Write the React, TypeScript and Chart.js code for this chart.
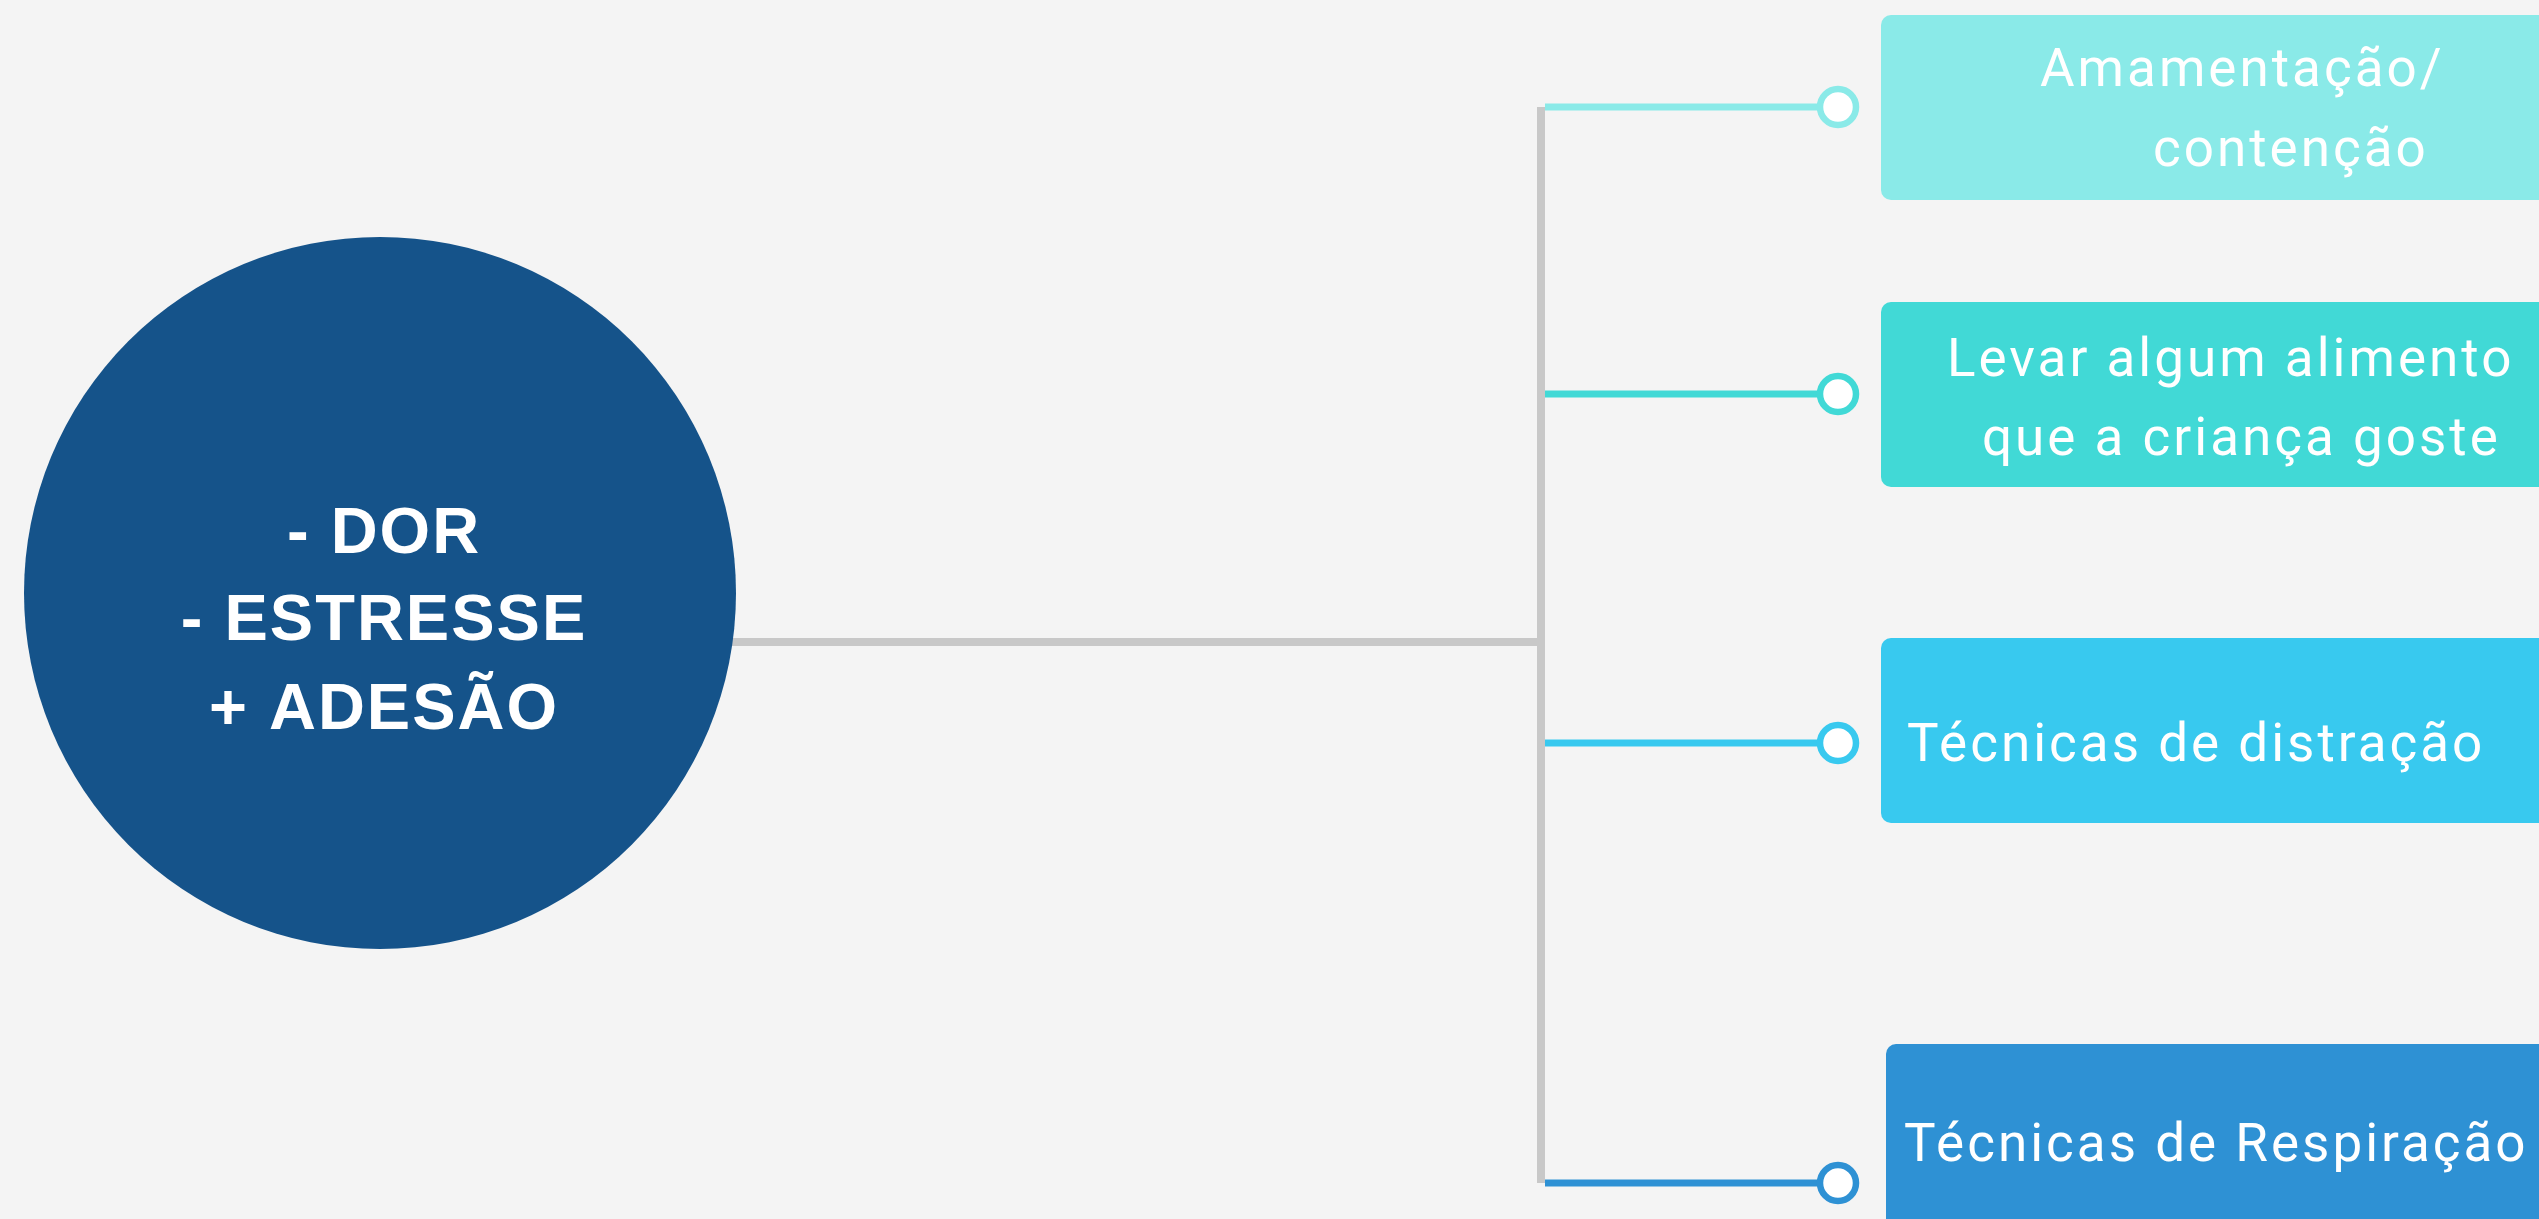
import React, { useEffect, useRef } from "react";
import { Chart, registerables } from "chart.js";

Chart.register(...registerables);

// ---- diagram data (diagram units = scale units) ----
const hubLines = ["- DOR", "- ESTRESSE", "+ ADESÃO"];
const hubCenter = { x: 380, y: 593 };
const hubRadius = 356;
const hubTextBaselines = [553, 640, 729];
const hubTextCenterX = 384;

const branchLabels: string[][] = [
  ["Amamentação/", "contenção"],
  ["Levar algum alimento", "que a criança goste"],
  ["Técnicas de distração"],
  ["Técnicas de Respiração"],
];
const branchY = [107, 394, 743, 1183];
const branchColors = ["#8AEAE8", "#41D9D6", "#38C9EF", "#2E91D4"];
const boxTop = [15, 302, 638, 1044];
const boxBottom = [200, 487, 823, 1290];
const boxLeft = [1881, 1881, 1881, 1886];
const textLeft: number[][] = [[2040, 2153], [1947, 1982], [1907], [1904]];
const textBaselines: number[][] = [[86, 166], [376, 455], [761], [1161]];

const trunkY = 642;
const spineX = 1541;
const connectorStartX = 1545;
const markerX = 1838;
const worldW = 2539;
const worldH = 1219;

const BG = "#F4F4F4";
const GRAY = "#C8C8C8";
const HUB = "#15538A";

export default function App() {
  const ref = useRef<HTMLCanvasElement | null>(null);

  useEffect(() => {
    if (!ref.current) return;

    const bgPlugin = {
      id: "bg",
      beforeDraw(chart: any) {
        const c = chart.ctx;
        c.save();
        c.fillStyle = BG;
        c.fillRect(0, 0, chart.width, chart.height);
        c.restore();
      },
    };

    const boxPlugin = {
      id: "boxes",
      beforeDatasetsDraw(chart: any) {
        const { ctx: c, scales } = chart;
        const sx = scales.x, sy = scales.y;
        c.save();
        branchLabels.forEach((_, i) => {
          const x0 = sx.getPixelForValue(boxLeft[i]);
          const x1 = sx.getPixelForValue(worldW + 40);
          const y0 = sy.getPixelForValue(boxTop[i]);
          const y1 = sy.getPixelForValue(boxBottom[i]);
          c.fillStyle = branchColors[i];
          c.beginPath();
          (c as any).roundRect(x0, y0, x1 - x0, y1 - y0, 10);
          c.fill();
        });
        c.restore();
      },
      afterDatasetsDraw(chart: any) {
        const { ctx: c, scales } = chart;
        const sx = scales.x, sy = scales.y;
        c.save();
        c.fillStyle = "#FFFFFF";
        c.textBaseline = "alphabetic";
        // branch texts
        c.font = '400 53px Roboto, "Noto Sans", sans-serif';
        (c as any).letterSpacing = "3px";
        c.textAlign = "left";
        branchLabels.forEach((lines, i) => {
          lines.forEach((t, j) => {
            c.fillText(t, sx.getPixelForValue(textLeft[i][j]), sy.getPixelForValue(textBaselines[i][j]));
          });
        });
        // hub texts
        c.font = 'bold 65px "Liberation Sans", Arial, sans-serif';
        (c as any).letterSpacing = "2px";
        c.textAlign = "center";
        hubLines.forEach((t, j) => {
          c.fillText(t, sx.getPixelForValue(hubTextCenterX), sy.getPixelForValue(hubTextBaselines[j]));
        });
        (c as any).letterSpacing = "0px";
        c.restore();
      },
    };

    const datasets: any[] = [];
    // hub circle (on top)
    datasets.push({
      type: "scatter",
      data: [{ x: hubCenter.x, y: hubCenter.y }],
      pointRadius: (ctx: any) => {
        const s = ctx.chart.scales.x;
        return s.getPixelForValue(hubRadius) - s.getPixelForValue(0);
      },
      pointBackgroundColor: HUB,
      pointBorderWidth: 0,
      clip: false,
      order: 0,
    });
    // markers
    branchY.forEach((y, i) => {
      datasets.push({
        type: "scatter",
        data: [{ x: markerX, y }],
        pointRadius: 18,
        pointBorderWidth: 6.5,
        pointBackgroundColor: "#FFFFFF",
        pointBorderColor: branchColors[i],
        clip: false,
        order: 1,
      });
    });
    // connectors
    branchY.forEach((y, i) => {
      datasets.push({
        type: "line",
        data: [
          { x: connectorStartX, y },
          { x: markerX, y },
        ],
        borderColor: branchColors[i],
        borderWidth: 7,
        borderCapStyle: "butt",
        pointRadius: 0,
        clip: false,
        order: 2,
      });
    });
    // trunk + spine
    datasets.push({
      type: "line",
      data: [
        { x: hubCenter.x, y: trunkY },
        { x: spineX, y: trunkY },
      ],
      borderColor: GRAY,
      borderWidth: 8,
      borderCapStyle: "butt",
      pointRadius: 0,
      clip: false,
      order: 3,
    });
    datasets.push({
      type: "line",
      data: [
        { x: spineX, y: branchY[0] },
        { x: spineX, y: branchY[branchY.length - 1] },
      ],
      borderColor: GRAY,
      borderWidth: 8,
      borderCapStyle: "butt",
      pointRadius: 0,
      clip: false,
      order: 3,
    });

    const chart = new Chart(ref.current, {
      type: "scatter",
      data: { datasets },
      options: {
        animation: false,
        responsive: true,
        maintainAspectRatio: false,
        events: [],
        layout: { padding: 0, autoPadding: false },
        plugins: { legend: { display: false }, tooltip: { enabled: false } },
        scales: {
          x: { type: "linear", min: 0, max: worldW, display: false },
          y: { type: "linear", min: 0, max: worldH, reverse: true, display: false },
        },
      },
      plugins: [bgPlugin, boxPlugin],
    } as any);

    (document as any).fonts?.ready?.then(() => chart.draw());

    return () => chart.destroy();
  }, []);

  return (
    <div style={{ position: "fixed", left: 0, top: 0, width: "100vw", height: "100vh", background: BG }}>
      <canvas ref={ref} />
    </div>
  );
}
